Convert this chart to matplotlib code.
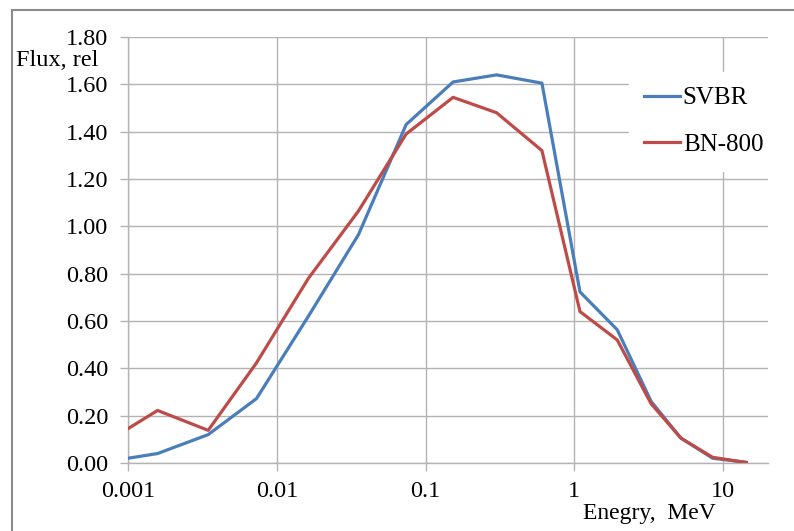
import matplotlib
matplotlib.use("Agg")
import matplotlib.pyplot as plt
import matplotlib.patches as mpatch

plt.rcParams['font.family'] = ['Liberation Serif', 'DejaVu Serif']

# energy points, MeV
energy = [0.001, 0.00158, 0.00346, 0.0073, 0.0163, 0.0354, 0.074, 0.153,
          0.30, 0.605, 1.09, 1.94, 3.28, 5.2, 8.5, 14.3]
svbr = [0.02, 0.04, 0.12, 0.272, 0.62, 0.965, 1.43, 1.61,
        1.64, 1.605, 0.723, 0.563, 0.26, 0.105, 0.02, 0.003]
bn800 = [0.145, 0.222, 0.138, 0.423, 0.78, 1.065, 1.39, 1.545,
         1.48, 1.32, 0.64, 0.52, 0.25, 0.105, 0.024, 0.002]

x_ticks = [0.001, 0.01, 0.1, 1, 10]
x_tick_labels = ['0.001', '0.01', '0.1', '1', '10']
y_ticks = [0.0, 0.2, 0.4, 0.6, 0.8, 1.0, 1.2, 1.4, 1.6, 1.8]

W, H = 794, 531
fig = plt.figure(figsize=(W / 100, H / 100), dpi=100)
ax = fig.add_axes([128 / W, (H - 463) / H, 640 / W, 426 / H])

grid_c = '#b3b3b3'
ax.plot(energy, svbr, color='#4a7ebb', lw=2.3, label='SVBR', zorder=3)
ax.plot(energy, bn800, color='#be4b48', lw=2.3, label='BN-800', zorder=3)

ax.set_xscale('log')
ax.set_xlim(0.001, 20)
ax.set_ylim(0, 1.8)
ax.set_xticks(x_ticks)
ax.set_xticklabels(x_tick_labels)
ax.minorticks_off()
ax.set_yticks(y_ticks)
ax.set_yticklabels(['%.2f' % v for v in y_ticks])

ax.grid(True, color=grid_c, lw=1)
ax.set_axisbelow(True)
for s in ['top', 'right']:
    ax.spines[s].set_visible(False)
for s in ['left', 'bottom']:
    ax.spines[s].set_color(grid_c)
    ax.spines[s].set_linewidth(1)
ax.tick_params(axis='both', colors=grid_c, labelcolor='black', length=6,
               width=1, labelsize=17.5)
ax.tick_params(axis='y', pad=8)
ax.tick_params(axis='x', pad=7)

fig.text(16 / W, 1 - 61 / H, 'Flux, rel', fontsize=17.5, ha='left', va='center')
fig.text(649 / W, 1 - 514 / H, 'Enegry,  MeV', fontsize=17, ha='center', va='center')

leg = ax.legend(loc='upper left', bbox_to_anchor=(629 / W, 1 - 72 / H),
                bbox_transform=fig.transFigure, fontsize=18, frameon=True,
                facecolor='white', edgecolor='white', framealpha=1,
                fancybox=False, handlelength=1.45, handletextpad=0.1,
                labelspacing=0.95, borderpad=0.6, borderaxespad=0)

fig.patches.append(mpatch.Rectangle((12 / W, -0.1), 1.2, 1 - 10 / H + 0.1,
                                    transform=fig.transFigure, fill=False,
                                    edgecolor='#8c8c8c', lw=1.5))

fig.savefig('out.png', dpi=100)
